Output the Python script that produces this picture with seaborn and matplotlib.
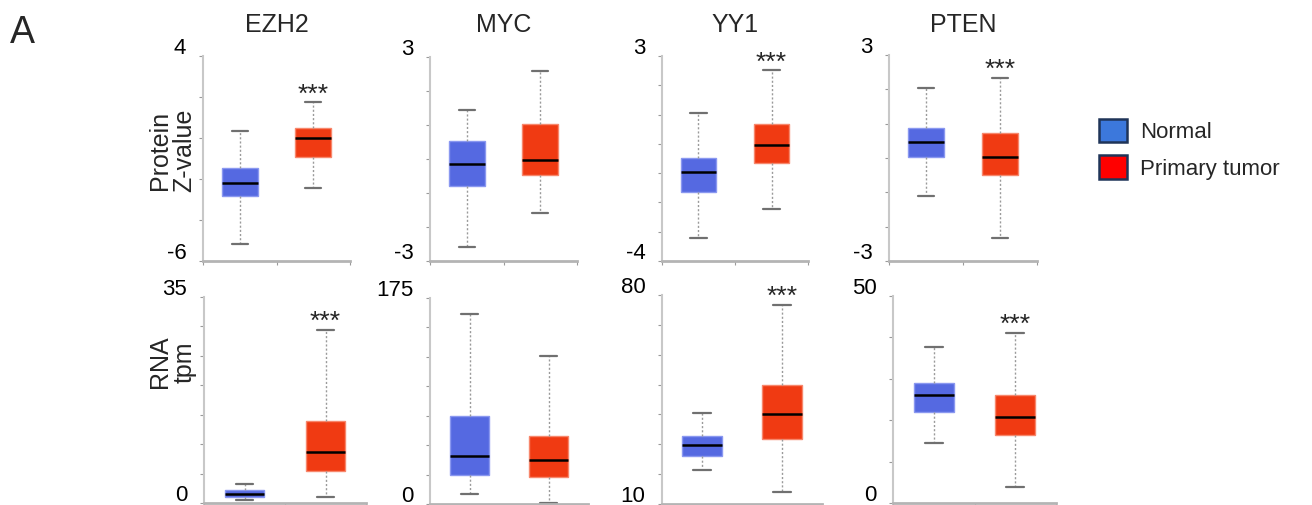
import numpy as np
import pandas as pd
import matplotlib
matplotlib.use("Agg")
import matplotlib.pyplot as plt
import matplotlib.transforms as mtransforms
from matplotlib.patches import Patch
import seaborn as sns

# ---------------- data (five-number summaries: low whisker, Q1, median, Q3, high whisker)
genes = ["EZH2", "MYC", "YY1", "PTEN"]
groups = ["Normal", "Primary tumor"]

protein_normal = {
    "EZH2": [-5.17, -2.83, -2.2, -1.46, 0.36],
    "MYC": [-2.58, -0.79, -0.15, 0.54, 1.43],
    "YY1": [-3.21, -1.66, -0.97, -0.48, 1.06],
    "PTEN": [-1.12, 0.02, 0.46, 0.86, 2.03],
}
protein_tumor = {
    "EZH2": [-2.44, -0.93, 0.0, 0.49, 1.74],
    "MYC": [-1.58, -0.46, -0.02, 1.04, 2.59],
    "YY1": [-2.21, -0.65, -0.03, 0.69, 2.51],
    "PTEN": [-2.34, -0.49, 0.04, 0.72, 2.33],
}
rna_normal = {
    "EZH2": [0.5, 1.1, 1.6, 2.2, 3.3],
    "MYC": [8.2, 24.7, 41.2, 74.7, 161.4],
    "YY1": [21.5, 26.2, 29.8, 32.7, 40.6],
    "PTEN": [14.4, 22.0, 26.0, 28.9, 37.7],
}
rna_tumor = {
    "EZH2": [1.0, 5.5, 8.7, 13.9, 29.4],
    "MYC": [0.6, 23.3, 37.2, 57.4, 125.9],
    "YY1": [13.9, 31.7, 40.3, 49.8, 76.7],
    "PTEN": [3.9, 16.4, 20.7, 26.0, 41.1],
}
protein_limits = {"EZH2": (-6, 4, 2), "MYC": (-3, 3, 1), "YY1": (-4, 3, 1), "PTEN": (-3, 3, 1)}
rna_limits = {"EZH2": (0, 35, 5), "MYC": (0, 175, 25), "YY1": (10, 80, 10), "PTEN": (0, 50, 10)}
protein_sig = {"EZH2": "***", "MYC": "", "YY1": "***", "PTEN": "***"}
rna_sig = {"EZH2": "***", "MYC": "", "YY1": "***", "PTEN": "***"}

# ---------------- figure
W, H = 1312, 505
sns.set_theme(style="white")
plt.rcParams["font.family"] = ["Liberation Sans", "DejaVu Sans"]
fig = plt.figure(figsize=(W / 100, H / 100), dpi=100)

def px_axes(l, t, r, b):
    return fig.add_axes([l / W, 1 - b / H, (r - l) / W, (b - t) / H])

top_rects = {"EZH2": (203, 56, 350, 261), "MYC": (430, 57, 577, 261),
             "YY1": (662, 56, 808, 261), "PTEN": (889, 55, 1037, 261)}
bot_rects = {"EZH2": (204, 297, 366, 503), "MYC": (430, 298, 588, 504),
             "YY1": (662, 295, 822, 504), "PTEN": (893, 296, 1056, 503)}

box_fill = {"Normal": "#5569E1", "Primary tumor": "#F03A12"}
box_edge = ["#8A98F0", "#F7876C"]

def fmt(v):
    return f"{v:g}"

def draw_panel(ax, normal, tumor, lims, sig):
    df = pd.DataFrame({
        "group": [groups[0]] * len(normal) + [groups[1]] * len(tumor),
        "value": list(normal) + list(tumor),
    })
    sns.boxplot(data=df, x="group", y="value", hue="group", palette=box_fill,
                saturation=1, width=0.49, whis=(0, 100), ax=ax, legend=False, linewidth=1.0,
                boxprops=dict(linewidth=1.0),
                medianprops=dict(color="black", linewidth=1.8),
                whiskerprops=dict(color="#9a9a9a", linestyle=(0, (1.5, 1.5)), linewidth=1.0),
                capprops=dict(color="#707070", linewidth=1.6),
                capwidths=0.22)
    for p, ec in zip(ax.patches, box_edge):
        p.set_edgecolor(ec)
    lo, hi, step = lims
    ax.set_ylim(lo, hi)
    ax.set_xlim(-0.5, 1.5)
    ax.set_yticks(np.arange(lo, hi + step / 2, step))
    ylabels = [""] * len(ax.get_yticks())
    ylabels[0] = fmt(lo)
    ylabels[-1] = fmt(hi)
    ax.set_yticklabels(ylabels)
    ax.set_xticks([-0.5, 0.5, 1.5])
    ax.set_xticklabels([])
    ax.set_xlabel("")
    ax.set_ylabel("")
    ax.tick_params(axis="y", left=True, length=3, width=0.8, color="#9a9a9a",
                   labelsize=16, pad=9, labelcolor="black")
    ax.tick_params(axis="x", bottom=True, length=3, width=0.8, color="#9a9a9a")
    off = mtransforms.ScaledTranslation(0, 10 / 100, fig.dpi_scale_trans)
    for lab in ax.get_yticklabels():
        lab.set_transform(lab.get_transform() + off)
    for s in ["top", "right"]:
        ax.spines[s].set_visible(False)
    ax.spines["left"].set_color("#c8c8c8")
    ax.spines["left"].set_linewidth(1.5)
    ax.spines["bottom"].set_color("#b4b4b4")
    ax.spines["bottom"].set_linewidth(2.0)
    ax.set_facecolor("white")
    if sig:
        ax.annotate(sig, xy=(1, tumor[-1]), xytext=(0, 0.5), textcoords="offset points",
                    ha="center", va="baseline", fontsize=19)

for g in genes:
    ax = px_axes(*top_rects[g])
    draw_panel(ax, protein_normal[g], protein_tumor[g], protein_limits[g], protein_sig[g])
    l, t, r, b = top_rects[g]
    fig.text(((l + r) / 2) / W, 1 - 25 / H, g, ha="center", va="center", fontsize=18)
    ax2 = px_axes(*bot_rects[g])
    draw_panel(ax2, rna_normal[g], rna_tumor[g], rna_limits[g], rna_sig[g])

fig.text(10 / W, 1 - 33 / H, "A", ha="left", va="center", fontsize=27)
fig.text(172 / W, 1 - 150 / H, "Protein\nZ-value", rotation=90, ha="center", va="center",
         fontsize=18, multialignment="center", linespacing=1.05)
fig.text(172 / W, 1 - 362 / H, "RNA\ntpm", rotation=90, ha="center", va="center",
         fontsize=18, multialignment="center", linespacing=1.05)

handles = [Patch(facecolor="#3C78DC", edgecolor="#1F3458", linewidth=1.8, label="Normal"),
           Patch(facecolor="#FF0000", edgecolor="#1F3458", linewidth=1.8, label="Primary tumor")]
fig.legend(handles=handles, loc="upper left", bbox_to_anchor=(1090 / W, 1 - 110 / H),
           frameon=False, fontsize=16, handlelength=1.25, handleheight=1.25,
           handletextpad=0.6, labelspacing=0.55, borderaxespad=0)

fig.savefig("out.png", dpi=100, facecolor="white")
